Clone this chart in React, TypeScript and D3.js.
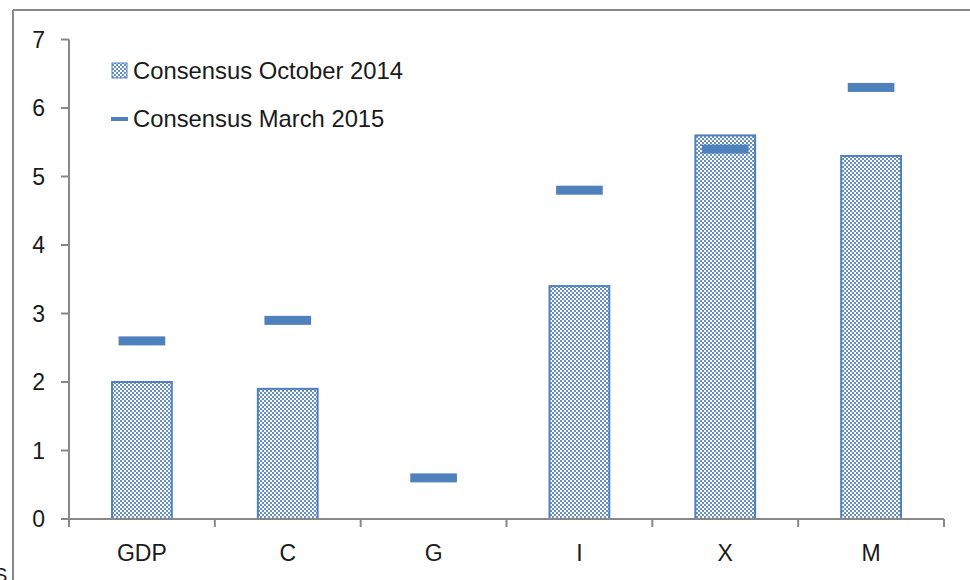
import React from "react";
import * as d3 from "d3";

const categories = ["GDP", "C", "G", "I", "X", "M"];
const october2014 = [2.0, 1.9, 0, 3.4, 5.6, 5.3];
const march2015 = [2.6, 2.9, 0.6, 4.8, 5.4, 6.3];
const yTicks = [0, 1, 2, 3, 4, 5, 6, 7];
const legendLabels = ["Consensus October 2014", "Consensus March 2015"];

const W = 970;
const H = 580;
const FONT = "'Liberation Sans', Arial, sans-serif";
const BLUE = "#4F81BD";

export default function App() {
  const x = d3.scaleBand<string>().domain(categories).range([69, 944]).paddingInner(0).paddingOuter(0);
  const y = d3.scaleLinear().domain([0, 7]).range([519, 39.5]);
  const bw = x.bandwidth();
  const barW = bw * 0.41;
  const dashW = bw * 0.32;
  const dashH = 9;

  return (
    <svg width={W} height={H} style={{ position: "absolute", left: 0, top: 0, background: "#fff" }}>
      <defs>
        <pattern id="chk" width={4} height={4} patternUnits="userSpaceOnUse">
          <rect width={4} height={4} fill="#ffffff" />
          <rect x={0} y={0} width={2} height={2} fill="#6890C8" />
          <rect x={2} y={2} width={2} height={2} fill="#6890C8" />
        </pattern>
      </defs>
      {/* frame */}
      <line x1={13} y1={10} x2={W} y2={10} stroke="#888" strokeWidth={2} />
      <line x1={13} y1={10} x2={13} y2={H} stroke="#888" strokeWidth={2} />
      <text x={-6} y={582} fontFamily={FONT} fontSize={20} fill="#222">S</text>

      {/* y axis */}
      <line x1={69} y1={y(7)} x2={69} y2={y(0)} stroke="#888" strokeWidth={2} />
      {yTicks.map((t) => (
        <g key={t}>
          <line x1={61} x2={69} y1={y(t)} y2={y(t)} stroke="#888" strokeWidth={2} />
          <text x={45} y={y(t)} dy="0.36em" textAnchor="end" fontFamily={FONT} fontSize={23} fill="#1a1a1a">
            {t}
          </text>
        </g>
      ))}

      {/* bars */}
      {categories.map((c, i) =>
        october2014[i] > 0 ? (
          <rect
            key={c}
            x={(x(c) as number) + (bw - barW) / 2}
            y={y(october2014[i])}
            width={barW}
            height={y(0) - y(october2014[i])}
            fill="url(#chk)"
            stroke={BLUE}
            strokeWidth={2}
          />
        ) : null
      )}

      {/* x axis */}
      <line x1={69} x2={944} y1={y(0)} y2={y(0)} stroke="#888" strokeWidth={2} />
      {d3.range(categories.length + 1).map((k) => {
        const xp = 69 + k * bw;
        return <line key={k} x1={xp} x2={xp} y1={y(0)} y2={527} stroke="#888" strokeWidth={2} />;
      })}
      {categories.map((c) => (
        <text key={c} x={(x(c) as number) + bw / 2} y={561} textAnchor="middle" fontFamily={FONT} fontSize={23} fill="#1a1a1a">
          {c}
        </text>
      ))}

      {/* march dashes */}
      {categories.map((c, i) => (
        <rect
          key={"m" + c}
          x={(x(c) as number) + (bw - dashW) / 2}
          y={y(march2015[i]) - dashH / 2}
          width={dashW}
          height={dashH}
          fill={BLUE}
        />
      ))}

      {/* legend */}
      <rect x={112} y={63} width={15} height={15} fill="url(#chk)" stroke={BLUE} strokeWidth={1} />
      <text x={133} y={79} fontFamily={FONT} fontSize={23.8} fill="#1a1a1a">{legendLabels[0]}</text>
      <rect x={111} y={117} width={17} height={4} fill={BLUE} />
      <text x={133} y={127} fontFamily={FONT} fontSize={23.8} fill="#1a1a1a">{legendLabels[1]}</text>
    </svg>
  );
}
